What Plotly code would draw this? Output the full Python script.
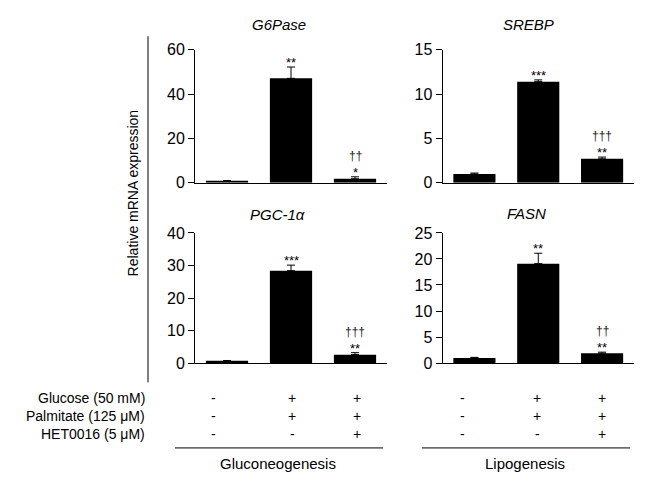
import plotly.graph_objects as go

OFF = 8                      # page body margin used by the renderer
W, H = 648 - 2 * OFF, 490 - 2 * OFF   # figure fits inside the window without overflow
FONT = "Arial, Liberation Sans, sans-serif"

# ---------------- data ----------------
groups = ["Control", "Glucose + Palmitate", "Glucose + Palmitate + HET0016"]
panel_titles = ["G6Pase", "SREBP", "PGC-1α", "FASN"]
g6pase_vals = [0.9, 47.1, 1.8]
g6pase_err = [0.1, 5.1, 0.9]
srebp_vals = [1.0, 11.4, 2.7]
srebp_err = [0.1, 0.2, 0.2]
pgc1a_vals = [0.7, 28.4, 2.6]
pgc1a_err = [0.1, 1.7, 0.6]
fasn_vals = [1.0, 19.1, 1.9]
fasn_err = [0.1, 2.0, 0.2]
g6pase_stars = ["", "**", "*"]
g6pase_daggers = ["", "", "††"]
srebp_stars = ["", "***", "**"]
srebp_daggers = ["", "", "†††"]
pgc1a_stars = ["", "***", "**"]
pgc1a_daggers = ["", "", "†††"]
fasn_stars = ["", "**", "**"]
fasn_daggers = ["", "", "††"]
y_max = [60, 15, 40, 25]
y_dtick = [20, 5, 10, 5]
row_labels = ["Glucose (50 mM)", "Palmitate (125 μM)", "HET0016 (5 μM)"]
glucose_signs = ["-", "+", "+"]
palmitate_signs = ["-", "+", "+"]
het_signs = ["-", "-", "+"]
process_labels = ["Gluconeogenesis", "Lipogenesis"]
y_title = "Relative mRNA expression"

# ---------------- layout helpers (window pixel -> paper) ----------------
def px(x):
    return (x - OFF) / W

def py(y):
    return 1 - (y - OFF) / H

xL = [px(195), px(387)]
xR = [px(442.5), px(634)]
yT = [py(181), py(43)]
yB = [py(368), py(233)]
domains = [(xL, yT), (xR, yT), (xL, yB), (xR, yB)]

vals = [g6pase_vals, srebp_vals, pgc1a_vals, fasn_vals]
errs = [g6pase_err, srebp_err, pgc1a_err, fasn_err]
stars = [g6pase_stars, srebp_stars, pgc1a_stars, fasn_stars]
daggers = [g6pase_daggers, srebp_daggers, pgc1a_daggers, fasn_daggers]

fig = go.Figure()
annotations = []
shapes = []
layout = dict(
    width=W, height=H, margin=dict(l=0, r=0, t=0, b=0),
    paper_bgcolor="white", plot_bgcolor="white", showlegend=False,
    font=dict(family=FONT, color="black", size=14),
)

for i in range(4):
    sfx = "" if i == 0 else str(i + 1)
    xa, ya = "x" + sfx, "y" + sfx
    fig.add_trace(go.Bar(
        x=[0, 1, 2], y=vals[i], width=0.66,
        marker=dict(color="black", line=dict(width=0)),
        error_y=dict(type="data", array=errs[i], arrayminus=[0, 0, 0],
                     symmetric=False, color="black", thickness=1, width=4),
        xaxis=xa, yaxis=ya, hoverinfo="skip",
    ))
    xd, yd = domains[i]
    layout["xaxis" + sfx] = dict(
        domain=xd, anchor=ya, range=[-0.5, 2.5], showticklabels=False,
        ticks="", showline=True, linecolor="black", linewidth=1,
        showgrid=False, zeroline=False, fixedrange=True,
    )
    layout["yaxis" + sfx] = dict(
        domain=yd, anchor=xa, range=[0, y_max[i]], dtick=y_dtick[i],
        tick0=0, ticks="outside", ticklen=6, tickwidth=1, tickcolor="black",
        showline=True, linecolor="black", linewidth=1, showgrid=False,
        zeroline=False, tickfont=dict(size=16, family=FONT, color="black"),
        fixedrange=True,
    )
    for j in range(3):
        top = vals[i][j] + errs[i][j]
        if stars[i][j]:
            annotations.append(dict(
                x=j, y=top, xref=xa, yref=ya, text=stars[i][j], showarrow=False,
                yanchor="bottom", yshift=-5, font=dict(size=13, family=FONT)))
        if daggers[i][j]:
            annotations.append(dict(
                x=j, y=top, xref=xa, yref=ya, text=daggers[i][j], showarrow=False,
                yanchor="bottom", yshift=12, font=dict(size=12, family=FONT, color="#222")))

# panel titles
title_pos = [(279, 17), (528, 17), (277, 214), (526, 213)]
for t, (tx, ty) in zip(panel_titles, title_pos):
    annotations.append(dict(
        x=px(tx), y=py(ty), xref="paper", yref="paper", text="<i>" + t + "</i>",
        showarrow=False, xanchor="center", yanchor="middle",
        font=dict(size=15, family=FONT)))

# y axis title
annotations.append(dict(
    x=px(133), y=py(192), xref="paper", yref="paper", text=y_title,
    textangle=-90, showarrow=False, xanchor="center", yanchor="middle",
    font=dict(size=14, family=FONT)))

# left long vertical line
shapes.append(dict(type="line", xref="paper", yref="paper",
                   x0=px(148), x1=px(148), y0=py(29), y1=py(388),
                   line=dict(color="black", width=1)))

# treatment table
row_y = [404, 423, 442]
sign_rows = [glucose_signs, palmitate_signs, het_signs]
col_x = [[213, 292, 357], [462, 537, 602]]
for r, (lab, ry) in enumerate(zip(row_labels, row_y)):
    annotations.append(dict(
        x=px(147), y=py(ry), xref="paper", yref="paper", text=lab,
        showarrow=False, xanchor="right", yanchor="middle",
        font=dict(size=14, family=FONT)))
    for cols in col_x:
        for c, cx in enumerate(cols):
            annotations.append(dict(
                x=px(cx), y=py(ry), xref="paper", yref="paper",
                text=sign_rows[r][c], showarrow=False, xanchor="center",
                yanchor="middle", font=dict(size=14, family=FONT)))

line_spans = [(175, 383), (422, 630)]
label_x = [278, 525]
for (a, b), lx, lab in zip(line_spans, label_x, process_labels):
    shapes.append(dict(type="line", xref="paper", yref="paper",
                       x0=px(a), x1=px(b), y0=py(456), y1=py(456),
                       line=dict(color="black", width=1)))
    annotations.append(dict(
        x=px(lx), y=py(472), xref="paper", yref="paper", text=lab,
        showarrow=False, xanchor="center", yanchor="middle",
        font=dict(size=15, family=FONT)))

layout["annotations"] = annotations
layout["shapes"] = shapes
fig.update_layout(**layout)
fig.write_html("out.html")
